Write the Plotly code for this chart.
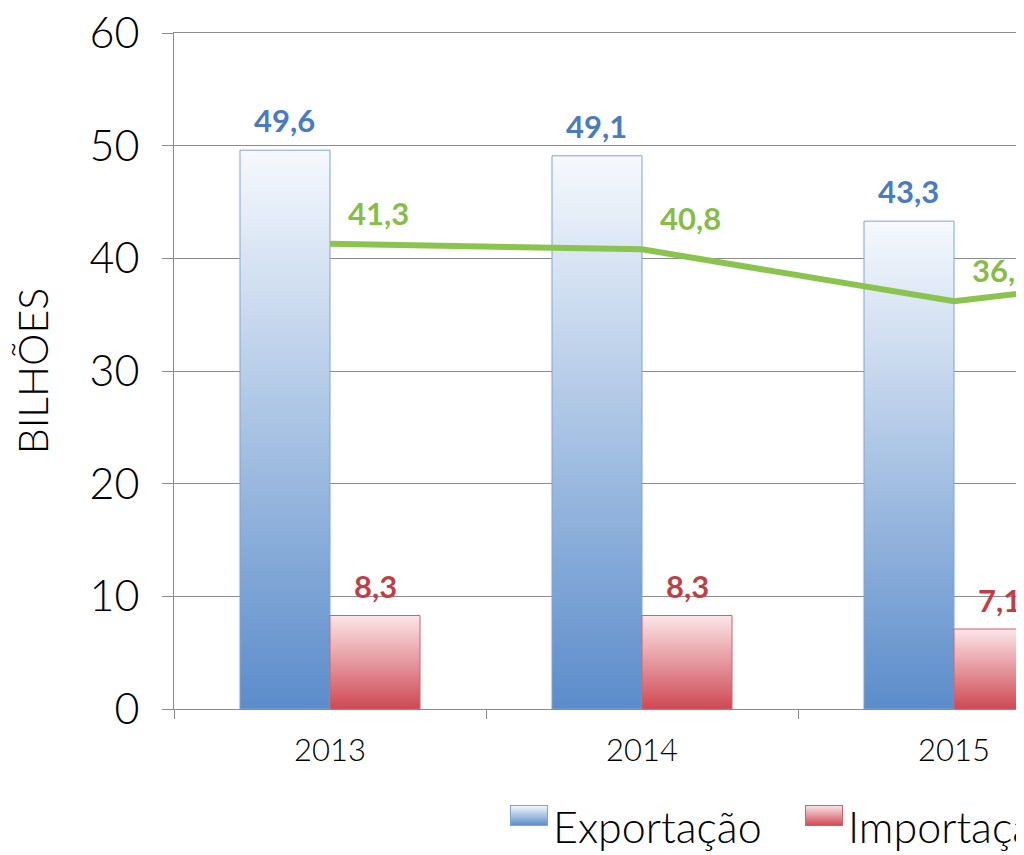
import base64
import plotly.graph_objects as go

# ---- data ----
years = ["2013", "2014", "2015", "2016"]
exportacao = [49.6, 49.1, 43.3, None]   # 2016 bars lie outside the visible crop
importacao = [8.3, 8.3, 7.1, None]
saldo = [41.3, 40.8, 36.2, 39.4]
y_ticks = [0, 10, 20, 30, 40, 50, 60]

series_names = ["Exportação", "Importação", "Saldo"]

# ---- style ----
FONT = "Lato"
BAR_W = 0.2885
BLUE_DARK, BLUE_LIGHT, BLUE_EDGE, BLUE_TXT = "#5b8cca", "#f6f9fd", "#7ea3d6", "#4a7bbf"
RED_DARK, RED_LIGHT, RED_EDGE, RED_TXT = "#cf4853", "#fbe6e8", "#d0606a", "#be3f48"
GREEN, GREEN_TXT = "#8bc34f", "#86bd48"
GRID = "#8c8c8c"

# plot-area geometry (figure pixels)
ML, MT, PW, PH = 166, 25, 850, 676


def fmt(v):
    return f"{v:.1f}".replace(".", ",")


def px_x(x):
    return (x - ML) / PW


def px_y(y):
    return (MT + PH - y) / PH


def swatch(dark, light, edge):
    svg = ('<svg xmlns="http://www.w3.org/2000/svg" width="38" height="21">'
           '<defs><linearGradient id="g" x1="0" y1="0" x2="0" y2="1">'
           f'<stop offset="0" stop-color="{light}"/><stop offset="1" stop-color="{dark}"/>'
           '</linearGradient></defs>'
           f'<rect x="0.5" y="0.5" width="37" height="20" fill="url(#g)" stroke="{edge}"/></svg>')
    return "data:image/svg+xml;base64," + base64.b64encode(svg.encode()).decode()


fig = go.Figure()


def add_bars(values, side, dark, light, edge, name, group):
    for i, v in enumerate(values):
        if v is None:
            continue
        x0 = i - BAR_W if side == "left" else i
        x1 = x0 + BAR_W
        fig.add_trace(go.Scatter(
            x=[x0, x1, x1, x0, x0], y=[0, 0, v, v, 0],
            mode="lines", fill="toself",
            line=dict(color=edge, width=1),
            fillgradient=dict(type="vertical", colorscale=[[0, dark], [1, light]]),
            name=name, legendgroup=group, showlegend=False,
            hoverinfo="skip",
        ))


add_bars(exportacao, "left", BLUE_DARK, BLUE_LIGHT, BLUE_EDGE, series_names[0], "exp")
add_bars(importacao, "right", RED_DARK, RED_LIGHT, RED_EDGE, series_names[1], "imp")

fig.add_trace(go.Scatter(
    x=list(range(len(years))), y=saldo, mode="lines",
    line=dict(color=GREEN, width=6),
    name=series_names[2], hoverinfo="skip", showlegend=False,
))

annotations = []
lab_font = dict(family=FONT, size=31, weight="bold")
for i, v in enumerate(exportacao):
    if v is None:
        continue
    annotations.append(dict(x=i - BAR_W / 2, y=v, xref="x", yref="y", text=fmt(v),
                            showarrow=False, yanchor="middle", yshift=30,
                            font=dict(lab_font, color=BLUE_TXT)))
for i, v in enumerate(importacao):
    if v is None:
        continue
    annotations.append(dict(x=i + BAR_W / 2, y=v, xref="x", yref="y", text=fmt(v),
                            showarrow=False, yanchor="middle", yshift=29,
                            font=dict(lab_font, color=RED_TXT)))
for i, v in enumerate(saldo):
    annotations.append(dict(x=i, y=v, xref="x", yref="y", text=fmt(v),
                            showarrow=False, xanchor="left", yanchor="middle",
                            xshift=16, yshift=31,
                            font=dict(lab_font, color=GREEN_TXT)))

# legend (drawn manually so the swatches can carry the bar gradient)
legend_items = [
    (series_names[0], BLUE_DARK, BLUE_LIGHT, BLUE_EDGE, 502),
    (series_names[1], RED_DARK, RED_LIGHT, RED_EDGE, 797),
]
images = []
for name, dark, light, edge, sx in legend_items:
    images.append(dict(source=swatch(dark, light, edge), xref="paper", yref="paper",
                       x=px_x(sx), y=px_y(797), sizex=38 / PW, sizey=21 / PH,
                       xanchor="left", yanchor="top", sizing="stretch", layer="above"))
    annotations.append(dict(x=px_x(sx + 41), y=px_y(818), xref="paper", yref="paper",
                            text=name, showarrow=False, xanchor="left", yanchor="middle",
                            font=dict(family=FONT, size=43, weight=300, color="#000000")))

fig.update_layout(
    width=1024, height=855,
    paper_bgcolor="white", plot_bgcolor="white",
    margin=dict(l=ML, r=1024 - ML - PW, t=MT, b=855 - MT - PH, autoexpand=False),
    font=dict(family=FONT, color="#000000"),
    annotations=annotations,
    images=images,
    showlegend=False,
    xaxis=dict(
        range=[-0.5, -0.5 + 850 / 312],
        tickmode="array", tickvals=list(range(len(years))), ticktext=years,
        ticks="", showgrid=False, zeroline=False,
        showline=True, linecolor=GRID, linewidth=1, mirror=True,
        tickfont=dict(family=FONT, size=31, weight=300),
        ticklabelstandoff=14,
        minor=dict(tickmode="array", tickvals=[i - 0.5 for i in range(len(years) + 1)],
                   ticks="outside", ticklen=9, tickcolor=GRID, tickwidth=1, showgrid=False),
    ),
    yaxis=dict(
        range=[0, 60], tickmode="array", tickvals=y_ticks,
        showgrid=True, gridcolor=GRID, gridwidth=1, zeroline=False,
        showline=True, linecolor=GRID, linewidth=1,
        ticks="outside", ticklen=11, tickcolor=GRID,
        tickfont=dict(family=FONT, size=43, weight=300),
        ticklabelstandoff=14, ticklabeloverflow="allow",
        title=dict(text="BILHÕES", font=dict(family=FONT, size=41, weight=300), standoff=40),
    ),
)

fig.write_html("out.html")
